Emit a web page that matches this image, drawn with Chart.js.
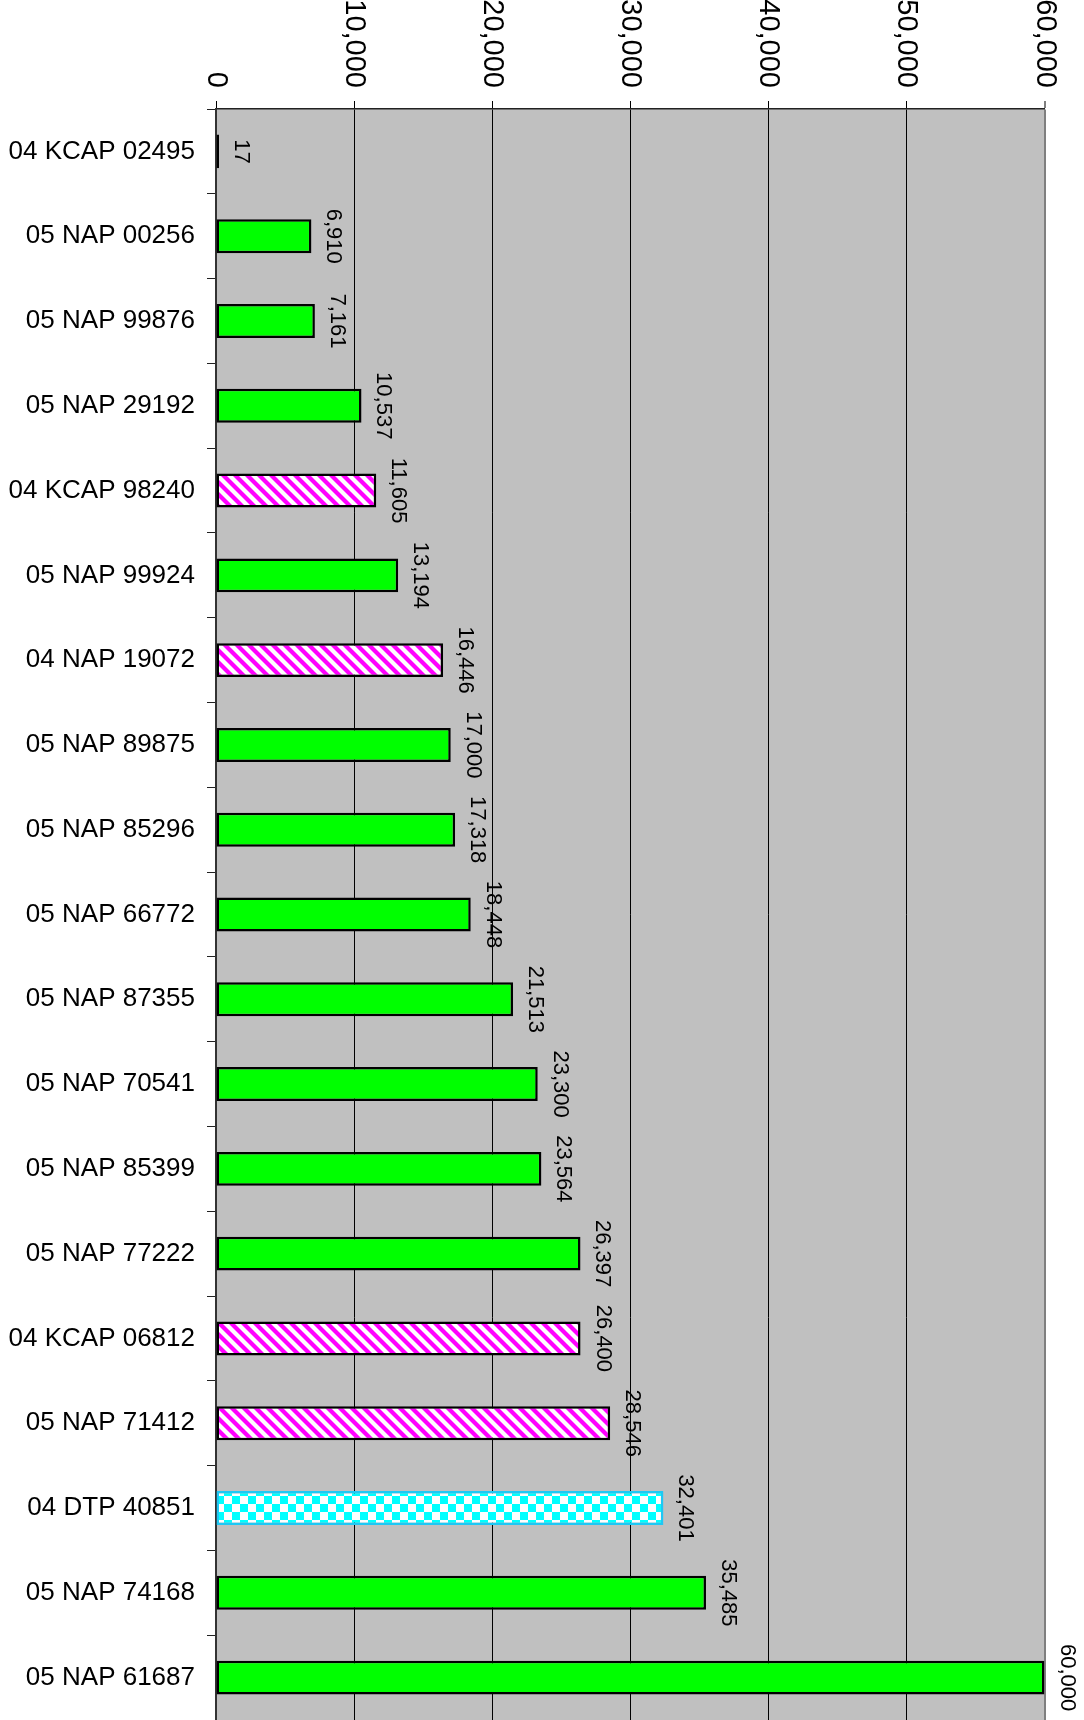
<!DOCTYPE html>
<html>
<head>
<meta charset="utf-8">
<script src="https://cdn.jsdelivr.net/npm/chart.js@4/dist/chart.umd.min.js"></script>
<style>
  html, body { margin: 0; padding: 0; background: #ffffff; }
  #wrap { width: 1084px; height: 1720px; overflow: hidden; }
  canvas { display: block; }
</style>
</head>
<body>
<div id="wrap"><canvas id="chart" width="1084" height="1720"></canvas></div>
<script>
// Project codes, top to bottom
const categories = [
  '04 KCAP 02495', '05 NAP 00256', '05 NAP 99876', '05 NAP 29192', '04 KCAP 98240',
  '05 NAP 99924', '04 NAP 19072', '05 NAP 89875', '05 NAP 85296', '05 NAP 66772',
  '05 NAP 87355', '05 NAP 70541', '05 NAP 85399', '05 NAP 77222', '04 KCAP 06812',
  '05 NAP 71412', '04 DTP 40851', '05 NAP 74168', '05 NAP 61687'
];
const values = [
  17, 6910, 7161, 10537, 11605,
  13194, 16446, 17000, 17318, 18448,
  21513, 23300, 23564, 26397, 26400,
  28546, 32401, 35485, 60000
];
// Fill style per bar: solid green, magenta hatch, cyan checker
const kinds = [
  'hatch', 'solid', 'solid', 'solid', 'hatch',
  'solid', 'hatch', 'solid', 'solid', 'solid',
  'solid', 'solid', 'solid', 'solid', 'hatch',
  'hatch', 'checker', 'solid', 'solid'
];
const tickValues = [0, 10000, 20000, 30000, 40000, 50000, 60000];

const AXIS_MAX = tickValues[tickValues.length - 1];
const fmt = v => v.toLocaleString('en-US');

function hatchPattern() {
  const p = 12;
  const c = document.createElement('canvas');
  c.width = p; c.height = p;
  const g = c.getContext('2d');
  g.fillStyle = '#ffffff';
  g.fillRect(0, 0, p, p);
  g.strokeStyle = '#ff00ff';
  g.lineWidth = 4.2;
  for (let k = -1; k <= 1; k++) {
    g.beginPath();
    g.moveTo(-3, -3 + p * k);
    g.lineTo(p + 3, p + 3 + p * k);
    g.stroke();
  }
  return g.createPattern(c, 'repeat');
}

function checkerPattern() {
  const s = 8;
  const c = document.createElement('canvas');
  c.width = 2 * s; c.height = 2 * s;
  const g = c.getContext('2d');
  g.fillStyle = '#ffffff';
  g.fillRect(0, 0, 2 * s, 2 * s);
  g.fillStyle = '#00ffff';
  g.fillRect(0, 0, s, s);
  g.fillRect(s, s, s, s);
  return g.createPattern(c, 'repeat');
}

const fills = { solid: '#00ff00', hatch: hatchPattern(), checker: checkerPattern() };
const borders = { solid: '#000000', hatch: '#000000', checker: '#1ec8f5' };

// Gray plot background and value labels (drawn before the grid, so grid lines pass over them)
const backdropAndValues = {
  id: 'backdropAndValues',
  beforeDraw(chart) {
    const { ctx, chartArea: a } = chart;
    ctx.save();
    ctx.fillStyle = '#c0c0c0';
    ctx.fillRect(a.left, a.top, a.right - a.left, a.bottom - a.top);
    const meta = chart.getDatasetMeta(0);
    ctx.fillStyle = '#000000';
    ctx.font = '22px "Liberation Sans", Arial, sans-serif';
    ctx.textAlign = 'center';
    ctx.textBaseline = 'alphabetic';
    meta.data.forEach((bar, i) => {
      ctx.save();
      ctx.translate(bar.x + 16, bar.y);
      ctx.rotate(Math.PI / 2);
      ctx.fillText(fmt(values[i]), 0, 0);
      ctx.restore();
    });
    ctx.restore();
  }
};

// Value axis labels, turned to read downward
const valueAxisLabels = {
  id: 'valueAxisLabels',
  afterDraw(chart) {
    const { ctx } = chart;
    const sx = chart.scales.x;
    ctx.save();
    ctx.fillStyle = '#000000';
    ctx.font = '29px "Liberation Sans Narrow", "Liberation Sans", Arial, sans-serif';
    ctx.textAlign = 'right';
    ctx.textBaseline = 'middle';
    sx.ticks.forEach(t => {
      ctx.save();
      ctx.translate(sx.getPixelForValue(t.value), sx.bottom - 21);
      ctx.rotate(Math.PI / 2);
      ctx.fillText(fmt(t.value), 0, 0);
      ctx.restore();
    });
    ctx.restore();
  }
};

new Chart(document.getElementById('chart'), {
  type: 'bar',
  data: {
    labels: categories,
    datasets: [{
      data: values,
      backgroundColor: kinds.map(k => fills[k]),
      borderColor: kinds.map(k => borders[k]),
      borderWidth: 2.5,
      borderSkipped: false,
      minBarLength: 3,
      categoryPercentage: 1,
      barPercentage: 0.4
    }]
  },
  options: {
    indexAxis: 'y',
    responsive: false,
    devicePixelRatio: 1,
    animation: false,
    events: [],
    layout: { padding: { top: 0, right: 39.5, bottom: 0, left: 0 } },
    plugins: { legend: { display: false }, tooltip: { enabled: false } },
    scales: {
      x: {
        position: 'top',
        min: 0,
        max: AXIS_MAX,
        afterBuildTicks(scale) { scale.ticks = tickValues.map(v => ({ value: v })); },
        ticks: { display: false },
        grid: {
          drawOnChartArea: true,
          drawTicks: true,
          tickLength: 8,
          lineWidth: c => (c.tick && c.tick.value === AXIS_MAX ? 2 : 1),
          color: c => (c.tick && c.tick.value === AXIS_MAX ? '#7f7f7f' : '#000000')
        },
        border: { display: true, color: '#222222', width: 1.5 },
        afterFit(scale) {
          scale.height = 109;
          scale.paddingLeft = 0;
          scale.paddingRight = 0;
        }
      },
      y: {
        position: 'left',
        offset: true,
        grid: {
          offset: true,
          drawOnChartArea: false,
          drawTicks: true,
          tickLength: 9,
          color: '#222222',
          lineWidth: 1
        },
        border: { display: true, color: '#333333', width: 2 },
        ticks: {
          color: '#000000',
          padding: 12,
          autoSkip: false,
          font: { family: '"Liberation Sans Narrow", "Liberation Sans", Arial, sans-serif', size: 26 }
        },
        afterFit(scale) {
          scale.width = 216;
          scale.paddingTop = 0;
          scale.paddingBottom = 0;
        }
      }
    }
  },
  plugins: [backdropAndValues, valueAxisLabels]
});
</script>
</body>
</html>
